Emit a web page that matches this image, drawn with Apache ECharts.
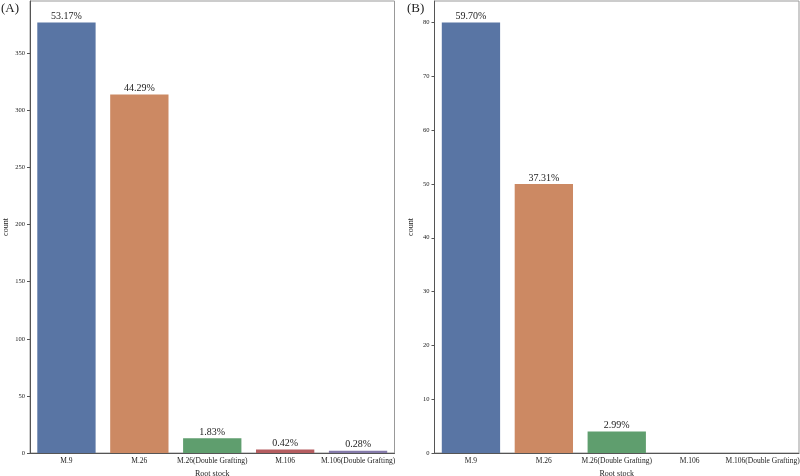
<!DOCTYPE html>
<html>
<head>
<meta charset="utf-8">
<script src="https://cdn.jsdelivr.net/npm/echarts@6/dist/echarts.min.js"></script>
<style>html,body{margin:0;padding:0;background:#fff}#c{width:800px;height:476px}</style>
</head>
<body>
<div id="c"></div>
<script>
const categories = ['M.9', 'M.26', 'M.26(Double Grafting)', 'M.106', 'M.106(Double Grafting)'];
const countsA = [377, 314, 13, 3, 2];
const countsB = [80, 50, 4, 0, 0];
const ticksA = [0, 50, 100, 150, 200, 250, 300, 350];
const ticksB = [0, 10, 20, 30, 40, 50, 60, 70, 80];
const colors = ['#5975a4', '#cc8963', '#5f9e6e', '#b55d60', '#857aab'];
const panelTitles = ['(A)', '(B)'];

const FONT = 'Liberation Serif';
const sumA = countsA.reduce((a, b) => a + b, 0);
const sumB = countsB.reduce((a, b) => a + b, 0);

function xAxis(gi) {
  return {
    type: 'category', gridIndex: gi, data: categories,
    name: 'Root stock', nameLocation: 'middle', nameGap: 14,
    nameTextStyle: { fontFamily: FONT, fontSize: 8, color: '#222' },
    axisLine: { lineStyle: { color: '#555', width: 1 } },
    axisTick: { alignWithLabel: true, length: 3, lineStyle: { color: '#555' } },
    axisLabel: { fontFamily: FONT, fontSize: 7.5, color: '#222', margin: 4, interval: 0 }
  };
}
function yAxis(gi, max, interval, ticks) {
  return {
    type: 'value', gridIndex: gi, min: 0, max: max, interval: interval,
    name: 'count', nameLocation: 'middle', nameGap: 20, nameRotate: 90,
    nameTextStyle: { fontFamily: FONT, fontSize: 8, color: '#222' },
    axisLine: { show: true, lineStyle: { color: '#555', width: 1 } },
    axisTick: { show: true, length: 3, lineStyle: { color: '#555' }, customValues: ticks },
    axisLabel: { fontFamily: FONT, fontSize: 6.5, color: '#222', margin: 5, customValues: ticks },
    splitLine: { show: false }
  };
}
function series(gi, counts, total) {
  return {
    type: 'bar', xAxisIndex: gi, yAxisIndex: gi, barWidth: '80%',
    data: counts.map((v, i) => ({ value: v, itemStyle: { color: colors[i] } })),
    label: {
      show: true, position: 'top', distance: 1,
      fontFamily: FONT, fontSize: 10, color: '#222',
      formatter: p => p.value > 0 ? (p.value / total * 100).toFixed(2) + '%' : ''
    }
  };
}

const chart = echarts.init(document.getElementById('c'), null, { renderer: 'canvas' });
chart.setOption({
  animation: false,
  title: [
    { text: panelTitles[0], left: 1, top: 2, padding: 0, textStyle: { fontFamily: FONT, fontSize: 13, fontWeight: 'normal', color: '#222' } },
    { text: panelTitles[1], left: 407, top: 2, padding: 0, textStyle: { fontFamily: FONT, fontSize: 13, fontWeight: 'normal', color: '#222' } }
  ],
  grid: [
    { left: 30, right: 405.5, top: 1, bottom: 23, show: true, borderColor: '#999', borderWidth: 1, outerBoundsMode: 'none', containLabel: false },
    { left: 434.5, right: 1, top: 1, bottom: 23, show: true, borderColor: '#999', borderWidth: 1, outerBoundsMode: 'none', containLabel: false }
  ],
  xAxis: [xAxis(0), xAxis(1)],
  yAxis: [yAxis(0, Math.max(...countsA) * 1.05, 50, ticksA), yAxis(1, Math.max(...countsB) * 1.05, 10, ticksB)],
  series: [series(0, countsA, sumA), series(1, countsB, sumB)]
});
</script>
</body>
</html>
